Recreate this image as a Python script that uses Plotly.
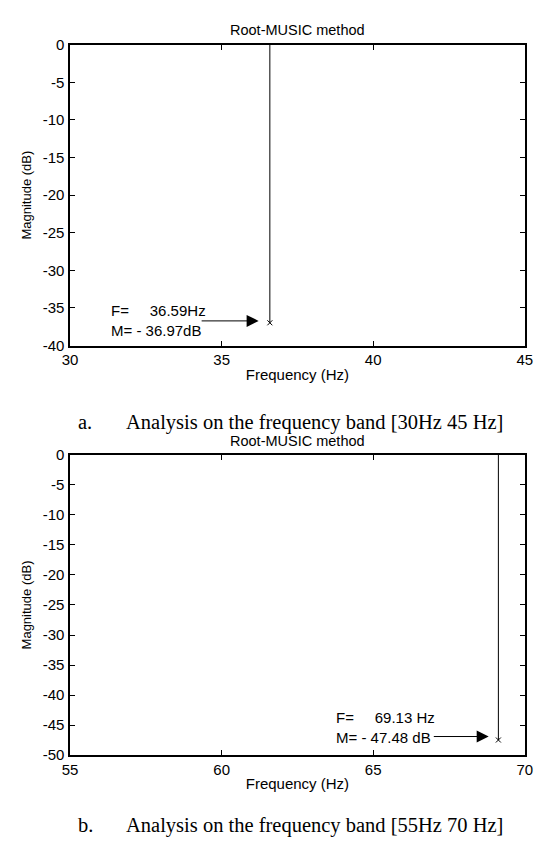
import plotly.graph_objects as go

# Data
peak_freq_a = [36.59]
peak_mag_a = [-36.97]
peak_freq_b = [69.13]
peak_mag_b = [-47.48]
x_ticks_a = [30, 35, 40, 45]
y_ticks_a = [0, -5, -10, -15, -20, -25, -30, -35, -40]
x_ticks_b = [55, 60, 65, 70]
y_ticks_b = [0, -5, -10, -15, -20, -25, -30, -35, -40, -45, -50]
y_labels_a = ["0", "-5", "-10", "-15", "-20", "-25", "-30", "-35", "-40"]
y_labels_b = ["0", "-5", "-10", "-15", "-20", "-25", "-30", "-35", "-40", "-45", "-50"]
label_a = ["F=\u00a0\u00a0\u00a0\u00a0\u00a036.59Hz", "M= - 36.97dB"]
label_b = ["F=\u00a0\u00a0\u00a0\u00a0\u00a069.13 Hz", "M= - 47.48 dB"]
title_text = "Root-MUSIC method"
caption_a = ("a.", "Analysis on the frequency band [30Hz 45 Hz]")
caption_b = ("b.", "Analysis on the frequency band [55Hz 70 Hz]")

W, H = 541, 843
def py(p):
    return 1 - p / H

FONT = "Liberation Sans, Arial, sans-serif"
SERIF = "Liberation Serif, Times New Roman, serif"

fig = go.Figure()

for f, m, xa, ya in [(peak_freq_a, peak_mag_a, "x", "y"), (peak_freq_b, peak_mag_b, "x2", "y2")]:
    fig.add_trace(go.Scatter(x=[f[0], f[0]], y=[0, m[0]], mode="lines",
                             line=dict(color="black", width=1), xaxis=xa, yaxis=ya,
                             showlegend=False, hoverinfo="skip"))
    fig.add_trace(go.Scatter(x=f, y=m, mode="markers",
                             marker=dict(symbol="x-thin", size=5, line=dict(color="black", width=1)),
                             xaxis=xa, yaxis=ya, showlegend=False))

xdom = [64 / W, 532.5 / W]
axis_common = dict(showgrid=False, zeroline=False, showline=True, linecolor="black",
                   linewidth=1.5, mirror="ticks", ticks="inside", ticklen=5, tickcolor="black",
                   tickwidth=1, tickfont=dict(family=FONT, size=15, color="black"))
xt_font = dict(family=FONT, size=15, color="black")
yt_font = dict(family=FONT, size=13, color="black")

fig.update_layout(
    width=W, height=H, margin=dict(l=0, r=0, t=0, b=0),
    paper_bgcolor="white", plot_bgcolor="white",
    xaxis=dict(domain=xdom, anchor="y", range=[30, 45], tickvals=x_ticks_a,
               ticktext=[str(v) for v in x_ticks_a], ticklabelstandoff=0,
               title=dict(text="Frequency (Hz)", font=xt_font, standoff=2), **axis_common),
    yaxis=dict(domain=[py(343.5), py(36.5)], anchor="x", range=[-40, 0], tickvals=y_ticks_a,
               ticktext=y_labels_a, ticklabelstandoff=1,
               title=dict(text="Magnitude (dB)", font=yt_font, standoff=8), **axis_common),
    xaxis2=dict(domain=xdom, anchor="y2", range=[55, 70], tickvals=x_ticks_b,
                ticktext=[str(v) for v in x_ticks_b], ticklabelstandoff=0,
                title=dict(text="Frequency (Hz)", font=xt_font, standoff=2), **axis_common),
    yaxis2=dict(domain=[py(761.5), py(455)], anchor="x2", range=[-50, 0], tickvals=y_ticks_b,
                ticktext=y_labels_b, ticklabelstandoff=1,
                title=dict(text="Magnitude (dB)", font=yt_font, standoff=8), **axis_common),
)

anns = []
# Titles
for yp in [21.7, 441]:
    anns.append(dict(text=title_text, x=(xdom[0] + xdom[1]) / 2, y=py(yp), xref="paper", yref="paper",
                     showarrow=False, font=dict(family=FONT, size=14.5, color="black"), yanchor="middle"))
# Captions
for (lab, txt), yp in [(caption_a, 421.5), (caption_b, 833)]:
    anns.append(dict(text=lab, x=70 / W, y=py(yp), xref="paper", yref="paper", showarrow=False,
                     xanchor="left", yanchor="middle", font=dict(family=SERIF, size=20.5, color="black")))
    anns.append(dict(text=txt, x=120 / W, y=py(yp), xref="paper", yref="paper", showarrow=False,
                     xanchor="left", yanchor="middle", font=dict(family=SERIF, size=20.5, color="black")))

# Peak labels
anns.append(dict(text="<br>".join(label_a), x=31.28, y=-36.7, xref="x", yref="y", showarrow=False,
                 xanchor="left", yanchor="middle", align="left",
                 font=dict(family=FONT, size=15, color="black")))
anns.append(dict(text="<br>".join(label_b), x=63.72, y=-45.37, xref="x2", yref="y2", showarrow=False,
                 xanchor="left", yanchor="middle", align="left",
                 font=dict(family=FONT, size=15, color="black")))
# Arrows
anns.append(dict(text="", x=36.22, y=-36.72, ax=34.29, ay=-36.72, xref="x", yref="y", axref="x", ayref="y",
                 showarrow=True, arrowhead=2, arrowsize=2.4, arrowwidth=1, arrowcolor="black"))
anns.append(dict(text="", x=68.81, y=-46.9, ax=66.95, ay=-46.9, xref="x2", yref="y2", axref="x2", ayref="y2",
                 showarrow=True, arrowhead=2, arrowsize=2.4, arrowwidth=1, arrowcolor="black"))

fig.update_layout(annotations=anns)
fig.write_html("out.html", config={"displayModeBar": False},
               post_script="document.body.style.margin='0';document.body.style.padding='0';"
                           "document.body.style.overflow='hidden';")
